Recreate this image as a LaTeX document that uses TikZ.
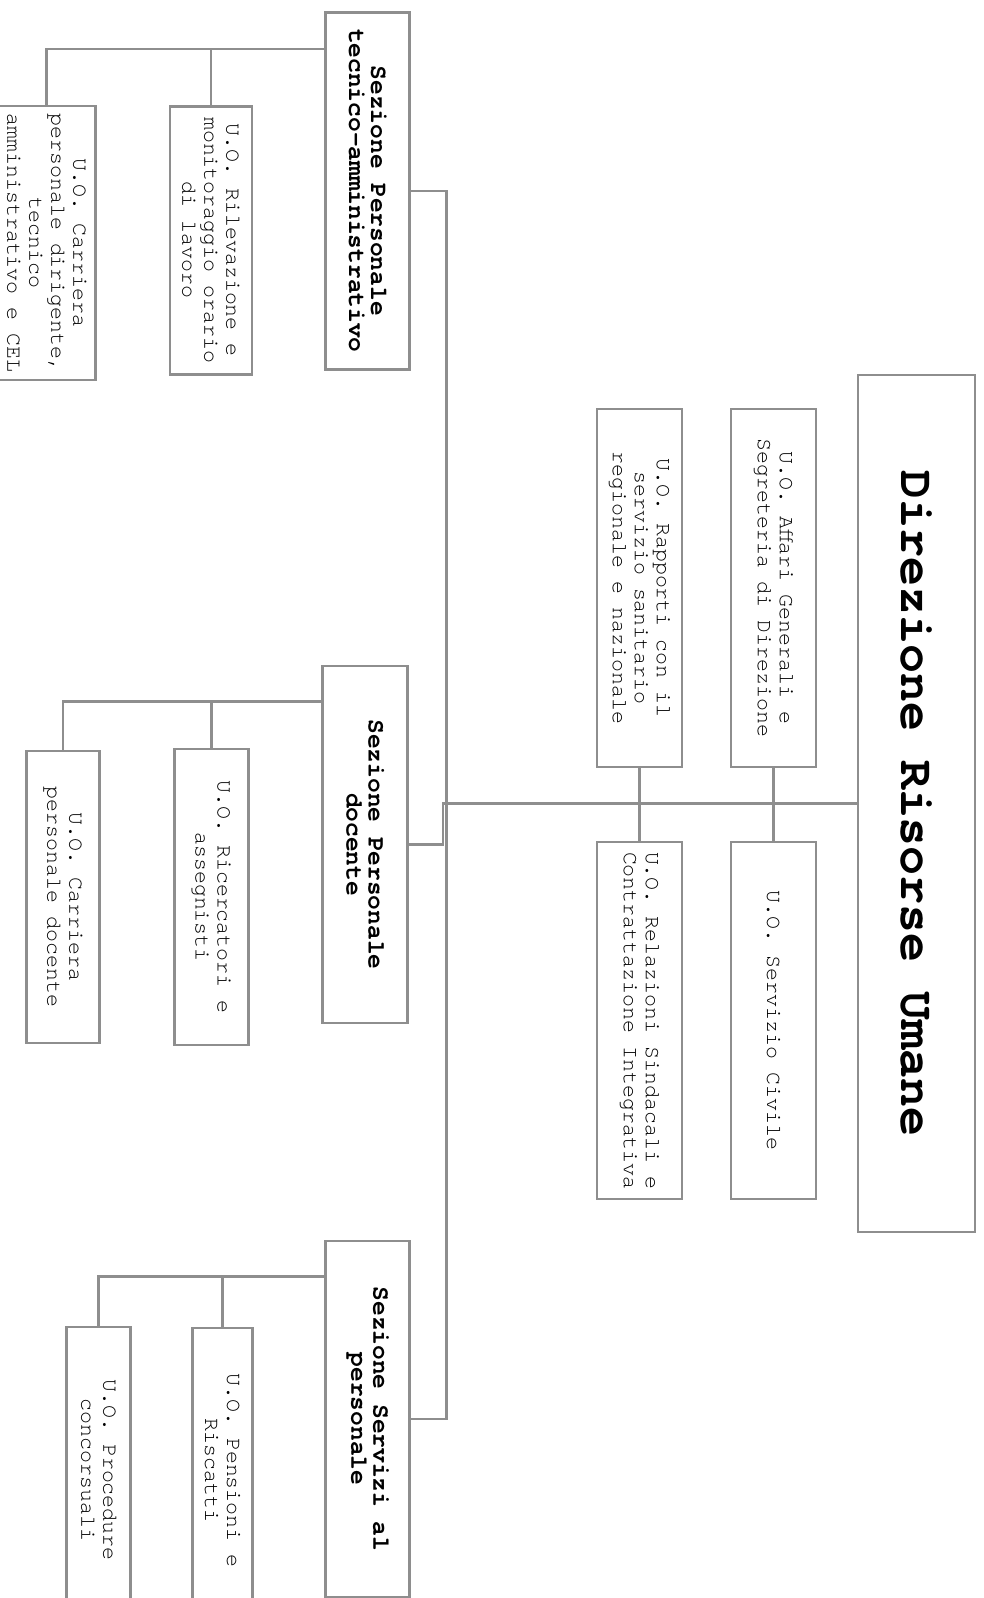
\documentclass[tikz,border=0pt]{standalone}
\usepackage{fontspec}
\newfontfamily\cour{TeX Gyre Cursor}
\definecolor{linegray}{HTML}{8E8E8E}
\newcommand{\unitfont}{\cour\fontsize{21.6pt}{22pt}\selectfont}
\newcommand{\secfont}{\cour\bfseries\fontsize{24.5pt}{22pt}\selectfont}
\newcommand{\dirfont}{\cour\bfseries\fontsize{48.3pt}{50pt}\selectfont}
\tikzset{
  boxbase/.style={draw=linegray, line width=2.6pt, rotate=-90, inner sep=0pt, align=center, fill=white, text=black},
  unitbox/.style={boxbase, font=\unitfont},
  secbox/.style={boxbase, font=\secfont},
  dirbox/.style={boxbase, font=\dirfont},
  conn/.style={draw=linegray, line width=2.6pt}
}
\begin{document}
\begin{tikzpicture}[x=1pt,y=-1pt]
\useasboundingbox (0,0) rectangle (984,1598);
\clip (0,0) rectangle (984,1598);
\fill[white] (0,0) rectangle (984,1598);

% Direzione
\node[dirbox, minimum width=857, minimum height=117] (dir) at (916.5,803.5) {Direzione Risorse Umane};

% Staff units
\node[unitbox, minimum width=358, minimum height=85] (aff) at (773.5,588) {U.O. Affari Generali e\\Segreteria di Direzione};
\node[unitbox, minimum width=358, minimum height=85] (rap) at (639.5,588) {U.O. Rapporti con il\\servizio sanitario\\regionale e nazionale};
\node[unitbox, minimum width=357, minimum height=85] (civ) at (773.5,1020.5) {U.O. Servizio Civile};
\node[unitbox, minimum width=357, minimum height=85] (rel) at (639.5,1020.5) {U.O. Relazioni Sindacali e\\Contrattazione Integrativa};

% Sezioni
\node[secbox, minimum width=357, minimum height=84] (sta) at (367.7,190.8) {Sezione Personale\\tecnico-amministrativo};
\node[secbox, minimum width=357, minimum height=85] (sdoc) at (365.2,844.5) {Sezione Personale\\docente};
\node[secbox, minimum width=356, minimum height=84] (sser) at (367.7,1419) {Sezione Servizi al\\personale};

% Units under Sezione tecnico-amministrativo
\node[unitbox, minimum width=274, minimum height=97] (car1) at (46.7,243) {U.O. Carriera\\personale dirigente,\\tecnico\\amministrativo e CEL};
\node[unitbox, minimum width=268, minimum height=82] (ril) at (210.8,240.2) {U.O. Rilevazione e\\monitoraggio orario\\di lavoro};

% Units under Sezione docente
\node[unitbox, minimum width=292, minimum height=73] (cdoc) at (63,897) {U.O. Carriera\\personale docente};
\node[unitbox, minimum width=296, minimum height=74] (ric) at (211.3,897) {U.O. Ricercatori e\\assegnisti};

% Units under Sezione servizi
\node[unitbox, minimum width=286, minimum height=64] (pro) at (98.7,1470) {U.O. Procedure\\concorsuali};
\node[unitbox, minimum width=285, minimum height=60] (pen) at (222.5,1470.5) {U.O. Pensioni e\\Riscatti};

% Connectors
\draw[conn] (aff) -- (civ);
\draw[conn] (rap) -- (rel);

\coordinate (j1) at (443,803.5);
\coordinate (j2) at (443,844.5);
\draw[conn] (dir.south) -- (j1) -- (j2) -- (sdoc.north);

\coordinate (t1) at (446.5,190.8);
\coordinate (t2) at (446.5,1419);
\draw[conn] (sta.north) -- (t1) -- (t2) -- (sser.north);

\coordinate (ta) at (46.7,49);
\draw[conn] (ta -| sta.south) -- (ta) -- (car1.west);
\draw[conn] (ril.west) -- (ril.west |- ta);

\coordinate (db) at (63,701.7);
\draw[conn] (db -| sdoc.south) -- (db) -- (cdoc.west);
\draw[conn] (ric.west) -- (ric.west |- db);

\coordinate (sb) at (98.7,1276.7);
\draw[conn] (sb -| sser.south) -- (sb) -- (pro.west);
\draw[conn] (pen.west) -- (pen.west |- sb);
\end{tikzpicture}
\end{document}
